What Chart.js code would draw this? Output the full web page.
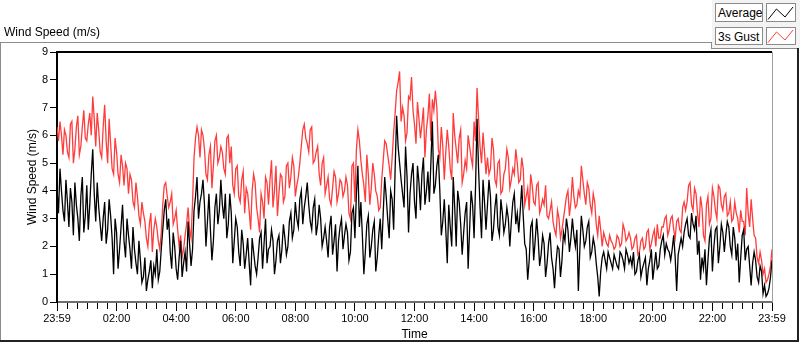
<!DOCTYPE html>
<html>
<head>
<meta charset="utf-8">
<script src="https://cdn.jsdelivr.net/npm/chart.js@4/dist/chart.umd.min.js"></script>
<style>
html,body{margin:0;padding:0;background:#fff;width:800px;height:342px;overflow:hidden;font-family:"Liberation Sans",Arial,sans-serif;}
#wrap{position:relative;width:800px;height:342px;}
#c{position:absolute;left:0;top:0;}
.ln{position:absolute;}
#title{position:absolute;left:4px;top:25px;font-size:12px;line-height:14px;color:#000;white-space:nowrap;}
#panel{position:absolute;left:712px;top:0;width:88px;height:48px;background:#f3f3f3;}
.lbox{position:absolute;border:1px solid #8a8a8a;background:#fff;font-size:12px;line-height:16px;padding:1px 0 0 2px;box-sizing:border-box;color:#000;white-space:nowrap;}
.ibox{position:absolute;border:1px solid #8a8a8a;background:#fff;box-sizing:border-box;}
</style>
</head>
<body>
<div id="wrap">
<canvas id="c" width="800" height="342"></canvas>
<div id="title">Wind Speed (m/s)</div>
<div class="ln" style="left:0;top:42px;width:712px;height:1px;background:#8c8c8c"></div>
<div class="ln" style="left:0;top:42px;width:1px;height:299px;background:#8c8c8c"></div>
<div id="panel"></div>
<div class="ln" style="left:711px;top:42px;width:1px;height:7px;background:#8c8c8c"></div>
<div class="ln" style="left:711px;top:48px;width:88px;height:1px;background:#8c8c8c"></div>
<div class="ln" style="left:797px;top:48px;width:2px;height:294px;background:#222"></div>
<div class="ln" style="left:0;top:340px;width:799px;height:2px;background:#222"></div>
<div class="lbox" style="left:715px;top:3px;width:48px;height:19px;">Average</div>
<div class="ibox" style="left:766px;top:3px;width:30px;height:19px;">
<svg width="28" height="17" style="position:absolute;left:0;top:0"><polyline points="1,15.5 9.5,5 18,13 26,3" fill="none" stroke="#000" stroke-width="1"/></svg>
</div>
<div class="lbox" style="left:715px;top:27px;width:48px;height:18px;">3s Gust</div>
<div class="ibox" style="left:766px;top:27px;width:30px;height:18px;">
<svg width="28" height="16" style="position:absolute;left:0;top:0"><polyline points="1,14.5 9.5,4 18,12 26,2" fill="none" stroke="#ff4040" stroke-width="1"/></svg>
</div>
</div>
<script>
// readings every 6 minutes from 23:59 (t = 0, 6, 12, ...)
const STEP = 6;

const averageSpeed = [
4.1,4.8,3.3,4.4,2.7,3.6,4.3,3.0,3.8,2.5,4.2,3.5,5.5,2.9,3.4,2.2,3.6,2.6,3.1,1.0,2.5,1.9,3.5,1.6,2.4,1.2,1.9,1.0,1.5,0.9,0.4,1.1,0.5,1.0,0.8,1.9,3.3,2.6,1.8,2.5,1.2,1.6,0.9,1.8,2.9,1.3,3.3,4.5,3.6,
4.4,2.0,3.9,1.5,3.4,2.8,4.4,3.0,2.3,3.9,1.4,3.0,1.8,2.6,1.2,2.3,0.6,1.8,1.0,2.3,1.2,3.0,1.9,2.6,1.0,2.2,1.4,2.8,1.7,2.9,2.3,3.6,2.7,4.0,3.4,4.3,2.9,3.4,2.4,3.5,2.0,2.7,1.6,3.1,2.2,1.1,2.7,1.9,
2.8,1.5,3.2,2.3,4.9,3.6,1.0,2.8,1.6,2.6,1.1,2.4,1.9,4.5,3.0,4.0,2.6,6.7,5.0,3.9,5.6,2.5,4.6,3.6,4.9,3.3,5.2,4.0,3.6,6.5,4.2,5.3,2.4,3.7,1.4,2.7,4.5,2.0,3.6,1.7,3.2,1.2,4.0,2.3,6.6,3.4,4.4,2.6,
4.4,2.2,3.4,2.7,3.7,2.5,3.4,2.0,3.6,2.8,2.5,4.2,2.1,0.8,2.7,1.5,3.0,1.3,2.4,0.9,2.1,1.6,0.5,2.0,0.9,2.5,3.0,1.8,3.0,2.0,0.4,3.1,2.0,2.7,1.6,2.3,1.4,0.2,1.6,1.5,1.8,1.4,1.7,1.3,1.8,1.5,1.9,1.4,
1.3,1.0,1.5,0.9,1.4,0.6,1.5,0.8,1.8,1.3,2.2,1.7,1.9,1.5,2.4,0.4,2.0,2.0,2.8,2.4,3.2,2.6,1.7,0.8,1.2,0.6,2.3,1.1,2.6,1.4,2.8,1.8,2.9,2.0,2.7,1.5,0.7,2.4,1.5,2.0,0.6,1.8,0.9,1.3,0.3,0.2,0.5,1.5
];
// readings taken 3 minutes after each of the above (t = 3, 9, 15, ...)
const averageSpeedMid = [
3.2,4.0,2.9,3.6,4.1,2.4,3.5,2.2,4.5,3.1,2.6,4.6,3.9,4.3,2.8,3.0,2.1,3.7,2.3,3.0,1.2,2.7,2.2,3.0,1.9,2.7,1.4,2.2,0.7,1.6,0.8,1.5,1.3,1.9,1.1,2.6,3.7,3.0,1.2,2.0,0.8,2.2,1.4,1.1,2.1,1.9,3.8,3.0,
3.9,3.5,2.9,2.6,2.2,3.9,3.3,3.5,3.9,2.8,3.2,2.2,2.7,1.3,2.1,1.7,1.4,2.3,1.3,1.6,2.5,2.1,1.4,2.0,2.2,1.5,2.4,1.9,2.3,2.0,3.2,2.6,3.0,3.7,2.8,3.8,3.5,2.6,3.7,2.8,3.0,2.3,2.2,2.7,1.7,2.8,2.2,3.0,
2.4,2.5,1.8,3.4,3.9,2.7,2.4,1.8,3.1,2.0,2.9,1.6,3.0,3.2,3.8,2.3,3.7,4.8,5.6,4.4,3.4,4.5,3.9,5.0,3.0,4.3,4.6,3.5,4.7,5.0,3.9,4.9,4.0,2.9,2.6,3.5,2.0,3.4,4.0,2.8,2.5,3.6,2.6,3.5,4.2,4.8,2.3,3.6,
3.5,3.8,2.6,3.9,2.4,3.2,2.8,3.0,2.9,3.9,3.2,3.3,3.1,1.9,1.5,2.9,2.2,2.3,1.7,2.1,1.4,2.5,1.2,1.4,1.9,1.5,2.2,2.6,2.3,2.4,2.6,1.9,2.6,2.2,2.9,1.8,2.0,0.9,1.1,1.8,1.2,1.6,1.2,1.5,1.2,1.7,1.2,1.7,
1.6,1.8,1.1,1.7,1.2,1.6,1.2,1.9,1.3,1.2,1.9,2.4,2.1,1.8,1.9,1.6,1.7,2.3,2.5,3.0,2.3,2.8,3.1,2.2,1.6,1.9,1.5,2.6,2.0,2.7,2.0,2.5,2.4,2.7,1.7,2.3,2.1,1.6,2.6,1.9,1.3,1.4,1.5,0.7,1.1,0.6,0.3,0.9
];

const gustSpeed = [
6.3,6.5,5.3,6.0,5.2,6.5,5.5,6.7,5.6,6.9,5.8,6.8,7.4,5.6,6.2,5.2,7.1,5.0,5.7,4.6,5.4,4.3,4.9,5.0,3.9,4.4,3.4,3.8,2.8,3.2,2.3,2.8,1.8,3.0,2.2,2.5,4.2,3.8,3.6,2.8,3.3,2.0,1.6,2.4,3.4,2.3,5.2,6.3,5.2,
6.0,4.6,5.3,4.1,5.8,5.0,5.6,4.8,5.9,5.0,4.2,4.8,3.8,4.4,3.2,3.9,2.6,4.6,3.4,2.5,3.6,4.5,3.5,5.1,4.0,3.1,4.6,3.6,4.9,4.1,5.2,3.8,4.5,5.6,6.4,5.7,6.2,5.0,5.4,4.6,5.0,3.9,4.5,3.5,4.7,3.6,4.4,3.8,
4.5,3.2,4.9,3.6,6.2,5.1,4.2,5.3,3.5,5.0,4.0,3.3,4.4,5.8,5.3,4.4,6.1,7.6,8.3,7.0,5.8,7.4,8.1,6.4,7.2,5.9,7.0,6.2,7.5,7.3,7.6,5.5,6.3,4.4,6.2,4.8,6.8,5.5,5.9,4.3,5.1,6.0,5.2,6.5,7.7,5.6,6.1,4.6,
4.6,5.9,4.4,5.0,3.9,4.6,5.5,4.1,4.8,5.5,4.3,5.2,3.5,4.1,4.6,3.6,4.2,3.2,3.7,4.2,3.0,3.6,2.6,3.3,2.3,3.0,3.8,3.1,4.5,3.4,4.0,4.9,3.9,4.3,3.5,3.9,2.8,3.1,2.0,2.3,2.0,2.2,1.9,2.4,2.0,2.8,2.2,2.5,
1.9,2.3,1.7,2.2,1.9,2.5,1.9,2.4,2.0,2.3,2.7,3.0,2.4,3.0,2.6,2.9,2.6,3.4,3.3,4.2,3.5,4.1,3.2,3.8,2.4,3.5,2.8,4.1,3.3,4.2,3.5,3.8,3.1,3.6,3.0,3.2,2.5,2.9,2.4,3.2,3.7,2.4,1.6,1.8,1.0,0.7,1.0,1.9
];
const gustSpeedMid = [
5.8,6.0,6.2,5.4,6.4,5.0,6.3,5.3,6.3,5.9,6.4,6.0,6.6,6.8,5.4,6.3,5.8,6.6,4.8,5.9,4.6,5.3,4.2,4.8,4.6,3.6,4.3,3.1,3.6,2.9,2.0,3.2,2.6,2.7,1.9,3.5,4.3,3.4,3.9,3.0,2.6,2.4,1.9,2.8,2.6,3.6,5.9,6.0,
6.2,5.5,4.4,5.6,4.9,6.0,5.2,5.4,4.6,6.0,5.6,3.9,4.9,3.6,4.7,4.1,3.3,4.0,4.3,3.0,3.9,3.0,4.3,4.4,3.4,4.9,3.9,4.5,3.8,5.0,4.5,4.9,4.2,5.0,6.2,5.9,5.4,6.3,5.1,5.6,4.2,5.2,4.2,3.7,4.1,4.5,3.9,4.3,
4.0,4.2,3.0,5.0,5.5,5.8,4.6,3.6,4.6,4.1,4.6,3.8,3.4,5.1,5.7,4.9,5.2,6.8,7.9,6.5,6.7,6.1,7.3,6.9,5.7,6.6,6.4,5.2,6.7,5.8,6.9,7.0,5.2,5.6,5.4,5.6,4.4,6.0,5.0,6.2,4.6,4.8,5.6,4.9,5.8,6.6,5.0,5.4,
5.2,4.8,5.5,4.2,5.1,4.0,4.8,5.2,4.4,4.6,5.0,4.4,4.8,3.8,3.3,4.2,3.5,4.3,3.4,3.5,3.1,3.3,2.9,2.4,3.0,2.6,3.4,4.0,3.6,3.8,3.5,3.8,4.4,3.5,4.1,3.2,3.6,2.4,2.6,2.5,2.1,2.4,2.1,2.0,2.3,2.1,2.6,2.3,
2.3,2.0,2.4,1.8,2.3,2.0,2.6,2.1,2.6,2.8,2.3,2.7,3.1,2.6,3.1,2.3,3.0,2.5,3.6,3.6,4.3,3.3,3.9,2.7,3.4,2.2,3.8,3.0,3.8,3.0,4.1,3.3,3.9,3.2,2.9,3.6,3.0,3.3,2.9,4.1,2.7,3.0,2.3,1.4,1.5,1.2,0.8,1.3
];

const xTickValues = [0,120,240,360,480,600,720,840,960,1080,1200,1320,1440];
const xTickLabels = ['23:59','02:00','04:00','06:00','08:00','10:00','12:00','14:00','16:00','18:00','20:00','22:00','23:59'];
const yTickValues = [0,1,2,3,4,5,6,7,8,9];

const FONT = '"Liberation Sans", Arial, sans-serif';

function toPoints(onGrid, mid) {
  const pts = [];
  for (let i = 0; i < onGrid.length; i++) {
    pts.push({x: i * STEP, y: onGrid[i]});
    if (i < mid.length) pts.push({x: i * STEP + STEP / 2, y: mid[i]});
  }
  return pts;
}

const decor = {
  id: 'decor',
  afterDraw(chart) {
    const {ctx, chartArea: a, scales: {x}} = chart;
    ctx.save();
    ctx.fillStyle = '#000';
    ctx.fillRect(a.left - 1, a.top - 1, a.right - a.left + 1, 2);
    ctx.fillStyle = '#a0a0a0';
    ctx.fillRect(a.right, a.top, 1, a.bottom - a.top);
    ctx.fillStyle = '#000';
    for (let t = 20; t < 1440; t += 20) {
      if (t % 120 === 0) continue;
      const px = Math.round(x.getPixelForValue(t));
      ctx.fillRect(px, a.bottom + 1, 1, 6);
    }
    ctx.restore();
  }
};

new Chart(document.getElementById('c'), {
  type: 'line',
  data: {
    datasets: [
      {label: 'Average', data: toPoints(averageSpeed, averageSpeedMid), borderColor: '#000000', borderWidth: 1.3, pointRadius: 0, tension: 0},
      {label: '3s Gust', data: toPoints(gustSpeed, gustSpeedMid), borderColor: '#ff3c3c', borderWidth: 1.3, pointRadius: 0, tension: 0}
    ]
  },
  options: {
    responsive: false,
    animation: false,
    devicePixelRatio: 1,
    layout: {padding: {left: 0, top: 52, right: 28, bottom: 0}},
    plugins: {legend: {display: false}, tooltip: {enabled: false}},
    scales: {
      x: {
        type: 'linear', min: 0, max: 1440,
        afterBuildTicks(s) { s.ticks = xTickValues.map(v => ({value: v})); },
        afterFit(s) { s.height = 40; },
        ticks: {autoSkip: false, maxRotation: 0, padding: 1, color: '#000',
                font: {family: FONT, size: 11},
                callback: (v) => xTickLabels[xTickValues.indexOf(v)]},
        grid: {display: true, drawOnChartArea: false, drawTicks: true, tickLength: 9, tickColor: '#000', color: '#000'},
        border: {display: true, color: '#6e6e6e', width: 2},
        title: {display: true, text: 'Time', color: '#000', font: {family: FONT, size: 12}, padding: {top: 2, bottom: 0}}
      },
      y: {
        min: 0, max: 9,
        afterBuildTicks(s) { s.ticks = yTickValues.map(v => ({value: v})); },
        afterFit(s) { s.width = 57; },
        ticks: {padding: 2, color: '#000', font: {family: FONT, size: 11}},
        grid: {display: true, drawOnChartArea: false, drawTicks: true, tickLength: 7, tickColor: '#000', color: '#000'},
        border: {display: true, color: '#000', width: 2},
        title: {display: true, text: 'Wind Speed (m/s)', color: '#000', font: {family: FONT, size: 12}, padding: {top: 25, bottom: 0}}
      }
    }
  },
  plugins: [decor]
});
</script>
</body>
</html>
